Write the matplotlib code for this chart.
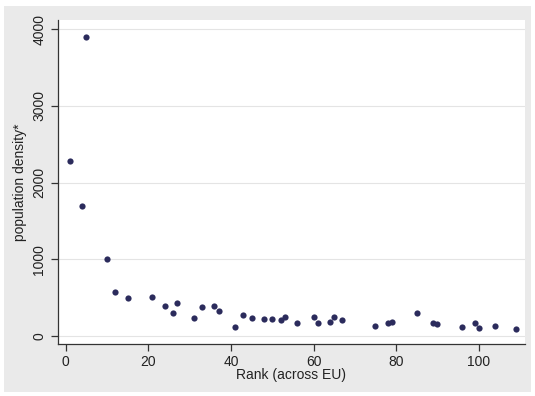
import numpy as np
import matplotlib.pyplot as plt
from matplotlib.patches import Rectangle

plt.rcParams["font.family"] = ["Liberation Sans", "DejaVu Sans"]

# rank across EU and population density
rank = [1, 4, 5, 10, 12, 15, 21, 24, 26, 27, 31, 33, 36, 37, 41, 43, 45, 48,
        50, 52, 53, 56, 60, 61, 64, 65, 67, 75, 78, 79, 85, 89, 90, 96, 99,
        100, 104, 109]
density = [2280, 1700, 3900, 1010, 578, 491, 504, 395, 304, 434, 239, 382,
           391, 326, 117, 270, 239, 224, 222, 209, 252, 174, 252, 174, 187,
           244, 209, 130, 174, 187, 296, 174, 156, 122, 174, 104, 130, 95]

yticks = [0, 1000, 2000, 3000, 4000]
xticks = [0, 20, 40, 60, 80, 100]


def main():
    fig = plt.figure(figsize=(5.35, 3.96), dpi=100)
    fig.patch.set_facecolor("white")
    # grey outer panel, kept behind the axes
    panel = Rectangle((4 / 535, 4 / 396), 527 / 535, 386 / 396,
                      transform=fig.transFigure, facecolor="#eaeaea",
                      edgecolor="none", zorder=-10)
    fig.add_artist(panel)

    ax = fig.add_axes([57.5 / 535, 1 - 344 / 396, (525 - 57.5) / 535, (344 - 20) / 396])
    ax.set_zorder(1)
    ax.set_facecolor("white")
    ax.scatter(rank, density, s=20, color="#2b2b5c", marker="o", zorder=3,
               linewidths=0)

    ax.set_xlim(-2, 111.2)
    ax.set_ylim(-104, 4120)
    ax.set_xticks(xticks)
    ax.set_yticks(yticks)
    ax.set_yticklabels([str(t) for t in yticks], rotation=90, va="center")
    ax.grid(axis="y", color="#e4e4e4", linewidth=0.8)
    ax.set_axisbelow(True)

    for s in ["top", "right"]:
        ax.spines[s].set_visible(False)
    for s in ["left", "bottom"]:
        ax.spines[s].set_color("#333333")
        ax.spines[s].set_linewidth(0.9)
    ax.tick_params(length=5, width=0.9, color="#333333", labelsize=10,
                   labelcolor="#222222", pad=3)

    ax.set_xlabel("Rank (across EU)", fontsize=10, color="#222222", labelpad=-1)
    ax.set_ylabel("population density*", fontsize=10, color="#222222", labelpad=4)

    fig.savefig("out.png", dpi=100, facecolor=fig.get_facecolor())


if __name__ == "__main__":
    main()
